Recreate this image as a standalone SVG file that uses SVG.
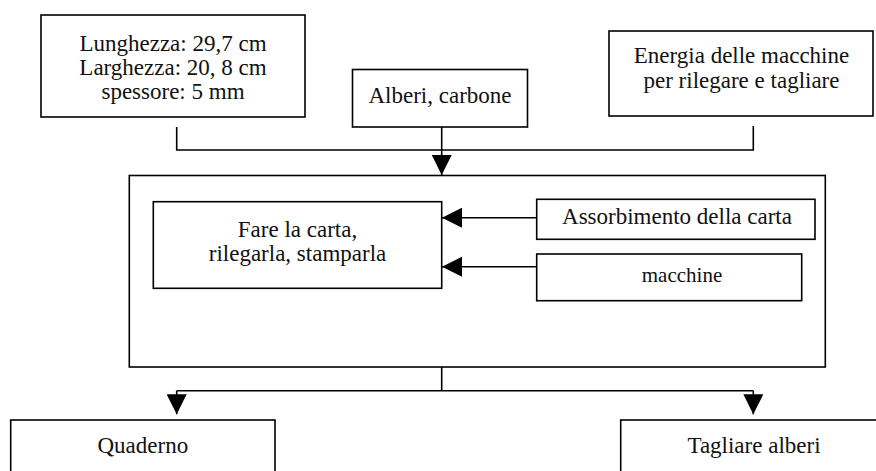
<svg xmlns="http://www.w3.org/2000/svg" width="876" height="471" viewBox="0 0 876 471">
  <style>
    .box { fill: #ffffff; stroke: #000000; stroke-width: 1.6; }
    .frame { fill: none; stroke: #000000; stroke-width: 1.6; }
    .wire { fill: none; stroke: #000000; stroke-width: 1.6; }
    .lbl { font-family: "Liberation Serif", "Times New Roman", serif; font-size: 23px; fill: #111111; text-anchor: middle; }
    .lbl.small { font-size: 21px; }
  </style>
  <defs>
    <marker id="head" markerUnits="userSpaceOnUse" markerWidth="20" markerHeight="20" viewBox="0 0 20 20" refX="20" refY="10" orient="auto">
      <path d="M0,0 L20,10 L0,20 Z" fill="#000000"/>
    </marker>
  </defs>
  <rect width="876" height="471" fill="#ffffff"/>

  <!-- process container -->
  <g id="process">
    <rect class="frame" x="129.3" y="175.5" width="696" height="191.5"/>
  </g>

  <!-- connectors -->
  <g id="connectors">
    <path class="wire" d="M176.7,127 V150 H753.3 V126"/>
    <path class="wire" d="M441.7,127 V175" marker-end="url(#head)"/>
    <path class="wire" d="M537,217.7 H442" marker-end="url(#head)"/>
    <path class="wire" d="M537,266.7 H442" marker-end="url(#head)"/>
    <path class="wire" d="M441.7,367 V390.7 M176.7,390.7 H753.3"/>
    <path class="wire" d="M176.7,390.7 V414.3" marker-end="url(#head)"/>
    <path class="wire" d="M753.3,390.7 V414.3" marker-end="url(#head)"/>
  </g>

  <g id="dimensions">
    <rect class="box" x="41" y="15" width="264" height="102"/>
    <text class="lbl" x="173" y="51">Lunghezza: 29,7 cm</text>
    <text class="lbl" x="173" y="75">Larghezza: 20, 8 cm</text>
    <text class="lbl" x="173" y="99">spessore: 5 mm</text>
  </g>

  <g id="materials">
    <rect class="box" x="352.5" y="69.5" width="175" height="57.5"/>
    <text class="lbl" x="440" y="103">Alberi, carbone</text>
  </g>

  <g id="energy">
    <rect class="box" x="609" y="31" width="264" height="85"/>
    <text class="lbl" x="741.5" y="63">Energia delle macchine</text>
    <text class="lbl" x="741.5" y="88">per rilegare e tagliare</text>
  </g>

  <g id="making">
    <rect class="box" x="153.3" y="201.7" width="288.4" height="86.6"/>
    <text class="lbl" x="297.5" y="237">Fare la carta,</text>
    <text class="lbl" x="297.5" y="261">rilegarla, stamparla</text>
  </g>

  <g id="absorption">
    <rect class="box" x="536.7" y="199.3" width="278.3" height="40"/>
    <text class="lbl" x="677" y="224">Assorbimento della carta</text>
  </g>

  <g id="machines">
    <rect class="box" x="536.7" y="254" width="265" height="46.7"/>
    <text class="lbl small" x="682" y="282">macchine</text>
  </g>

  <g id="notebook">
    <rect class="box" x="10.7" y="420" width="264.3" height="70"/>
    <text class="lbl" x="142.8" y="453">Quaderno</text>
  </g>

  <g id="felling">
    <rect class="box" x="620.7" y="420" width="267" height="70"/>
    <text class="lbl" x="754" y="453">Tagliare alberi</text>
  </g>
</svg>
